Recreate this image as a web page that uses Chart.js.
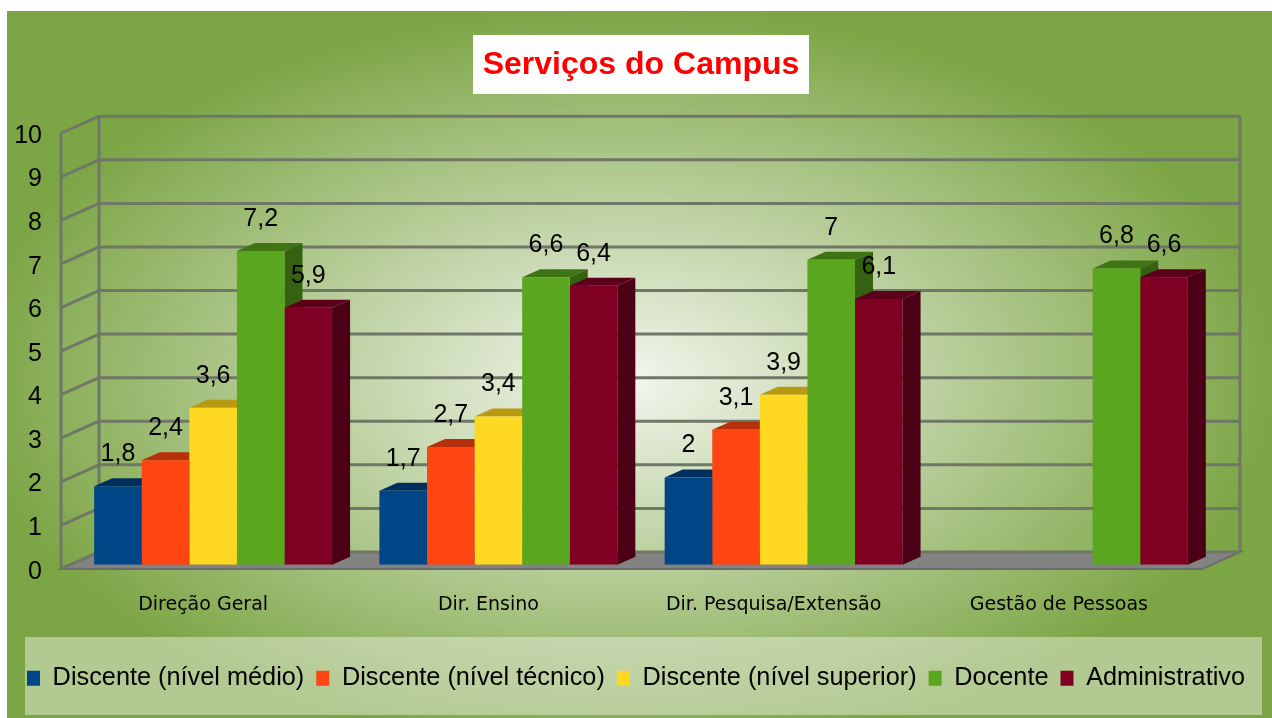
<!DOCTYPE html>
<html>
<head>
<meta charset="utf-8">
<title>Serviços do Campus</title>
<script src="https://cdn.jsdelivr.net/npm/chart.js@4.4.0/dist/chart.umd.min.js"></script>
<style>
  html, body { margin: 0; padding: 0; background: #fff; }
  canvas { display: block; }
</style>
</head>
<body>
<canvas id="campusChart" width="1272" height="718"></canvas>
<script>
const categories = ['Direção Geral', 'Dir. Ensino', 'Dir. Pesquisa/Extensão', 'Gestão de Pessoas'];
const seriesNames = ['Discente (nível médio)', 'Discente (nível técnico)', 'Discente (nível superior)', 'Docente', 'Administrativo'];
const medio = [1.8, 1.7, 2, null];
const tecnico = [2.4, 2.7, 3.1, null];
const superior = [3.6, 3.4, 3.9, null];
const docente = [7.2, 6.6, 7, 6.8];
const administrativo = [5.9, 6.4, 6.1, 6.6];
const yMin = 0, yMax = 10, yStep = 1;

// front / top / side shades for each series
const frontColors = ['#004586', '#ff4512', '#ffd822', '#5ba61f', '#800024'];
const topColors   = ['#002f5e', '#b8300a', '#b89a12', '#3f7414', '#5c0019'];
const sideColors  = ['#00284f', '#a52a08', '#a88c10', '#356211', '#4c0015'];

const BAR_DEPTH = { dx: 18, dy: -8 };
const WALL_DEPTH = { dx: 38, dy: -17 };
const BAR_PLANE = 0.25; // how far back the bar fronts sit inside the box

const fmt = v => String(v).replace('.', ',');

const scene3d = {
  id: 'scene3d',
  beforeDraw(chart) {
    const { ctx, width, height } = chart;
    ctx.save();
    ctx.fillStyle = '#fff';
    ctx.fillRect(0, 0, width, height);
    ctx.beginPath();
    ctx.rect(7, 11, width - 7, height - 11);
    ctx.clip();
    ctx.translate(625, 380);
    ctx.scale(1.75, 1);
    const g = ctx.createRadialGradient(0, 0, 0, 0, 0, 375);
    g.addColorStop(0, '#f3f6ee');
    g.addColorStop(1, '#7ca545');
    ctx.fillStyle = g;
    ctx.fillRect(-400, -400, 800, 800);
    ctx.restore();

    // title
    ctx.save();
    ctx.fillStyle = '#fff';
    ctx.fillRect(473, 35, 336, 59);
    ctx.font = 'bold 32px "Liberation Sans", Arial, sans-serif';
    ctx.fillStyle = '#ff0000';
    ctx.textAlign = 'center';
    ctx.textBaseline = 'middle';
    ctx.fillText('Serviços do Campus', 641, 65);
    ctx.restore();

    // legend panel
    ctx.save();
    ctx.fillStyle = 'rgba(232,238,222,0.5)';
    ctx.fillRect(25, 637, 1237, 78);
    ctx.restore();
  },
  beforeDatasetsDraw(chart) {
    const { ctx, chartArea: a } = chart;
    const y = chart.scales.y;
    const fx0 = a.left - BAR_PLANE * WALL_DEPTH.dx;
    const fx1 = a.right - BAR_PLANE * WALL_DEPTH.dx;
    const bx0 = a.left + (1 - BAR_PLANE) * WALL_DEPTH.dx;
    const bx1 = a.right + (1 - BAR_PLANE) * WALL_DEPTH.dx;
    const fy = v => y.getPixelForValue(v) - BAR_PLANE * WALL_DEPTH.dy;
    const by = v => y.getPixelForValue(v) + (1 - BAR_PLANE) * WALL_DEPTH.dy;

    ctx.save();
    // floor
    ctx.fillStyle = '#828282';
    ctx.beginPath();
    ctx.moveTo(fx0, fy(yMin));
    ctx.lineTo(fx1, fy(yMin));
    ctx.lineTo(bx1, by(yMin));
    ctx.lineTo(bx0, by(yMin));
    ctx.closePath();
    ctx.fill();
    ctx.strokeStyle = '#6c6c6c';
    ctx.lineWidth = 2;
    ctx.stroke();

    // back and side wall grid
    ctx.strokeStyle = '#6f7767';
    ctx.lineWidth = 3;
    ctx.beginPath();
    for (let v = yMin; v <= yMax; v += yStep) {
      ctx.moveTo(bx0, by(v));
      ctx.lineTo(bx1, by(v));
      ctx.moveTo(fx0, fy(v));
      ctx.lineTo(bx0, by(v));
    }
    ctx.moveTo(bx0, by(yMax)); ctx.lineTo(bx0, by(yMin));
    ctx.moveTo(bx1, by(yMax)); ctx.lineTo(bx1, by(yMin));
    ctx.moveTo(fx0, fy(yMax)); ctx.lineTo(fx0, fy(yMin));
    ctx.stroke();

    // bar tops and sides, fronts are drawn by the controller afterwards
    const { dx, dy } = BAR_DEPTH;
    chart.data.datasets.forEach((ds, di) => {
      const meta = chart.getDatasetMeta(di);
      meta.data.forEach((bar, i) => {
        if (ds.data[i] == null) return;
        const { x, y: top, base, width } = bar.getProps(['x', 'y', 'base', 'width'], true);
        const l = x - width / 2, r = x + width / 2;
        ctx.fillStyle = sideColors[di];
        ctx.beginPath();
        ctx.moveTo(r, base);
        ctx.lineTo(r + dx, base + dy);
        ctx.lineTo(r + dx, top + dy);
        ctx.lineTo(r, top);
        ctx.closePath();
        ctx.fill();
        ctx.fillStyle = topColors[di];
        ctx.beginPath();
        ctx.moveTo(l, top);
        ctx.lineTo(r, top);
        ctx.lineTo(r + dx, top + dy);
        ctx.lineTo(l + dx, top + dy);
        ctx.closePath();
        ctx.fill();
      });
    });
    ctx.restore();
  },
  afterDatasetsDraw(chart) {
    const { ctx } = chart;
    ctx.save();
    ctx.font = '25px "Liberation Sans", Arial, sans-serif';
    ctx.fillStyle = '#000';
    ctx.textAlign = 'center';
    ctx.textBaseline = 'middle';
    chart.data.datasets.forEach((ds, di) => {
      chart.getDatasetMeta(di).data.forEach((bar, i) => {
        const v = ds.data[i];
        if (v == null) return;
        ctx.fillText(fmt(v), bar.x, bar.y - 32);
      });
    });
    ctx.restore();
  }
};

const seriesValues = [medio, tecnico, superior, docente, administrativo];

new Chart(document.getElementById('campusChart'), {
  type: 'bar',
  data: {
    labels: categories,
    datasets: seriesNames.map((name, i) => ({
      label: name,
      data: seriesValues[i],
      backgroundColor: frontColors[i],
      borderWidth: 0,
      categoryPercentage: 0.834,
      barPercentage: 1
    }))
  },
  options: {
    responsive: false,
    devicePixelRatio: 1,
    animation: false,
    layout: { padding: { top: 129, right: 0, bottom: 17, left: 0 } },
    scales: {
      x: {
        grid: { display: false, drawTicks: false },
        border: { display: false },
        ticks: {
          padding: 29,
          labelOffset: -10,
          maxRotation: 0,
          color: '#000',
          font: { family: '"DejaVu Sans", sans-serif', size: 19 }
        },
        afterFit(scale) { scale.height = 89; }
      },
      y: {
        min: yMin,
        max: yMax,
        grid: { display: false, drawTicks: false },
        border: { display: false },
        ticks: {
          stepSize: yStep,
          padding: 28.5,
          labelOffset: 7,
          color: '#000',
          font: { family: '"Liberation Sans", Arial, sans-serif', size: 25 }
        },
        afterFit(scale) { scale.width = 70.5; }
      },
      // empty right gutter that leaves room for the box depth
      yRight: {
        position: 'right',
        min: yMin,
        max: yMax,
        grid: { display: false, drawTicks: false },
        border: { display: false },
        ticks: { display: false },
        afterFit(scale) { scale.width = 60.5; }
      }
    },
    plugins: {
      title: { display: false },
      tooltip: { enabled: false },
      legend: {
        display: true,
        position: 'bottom',
        labels: {
          boxWidth: 13,
          boxHeight: 15,
          padding: 12,
          color: '#000',
          font: { family: '"Liberation Sans", Arial, sans-serif', size: 25.3 }
        }
      }
    }
  },
  plugins: [scene3d]
});
</script>
</body>
</html>
